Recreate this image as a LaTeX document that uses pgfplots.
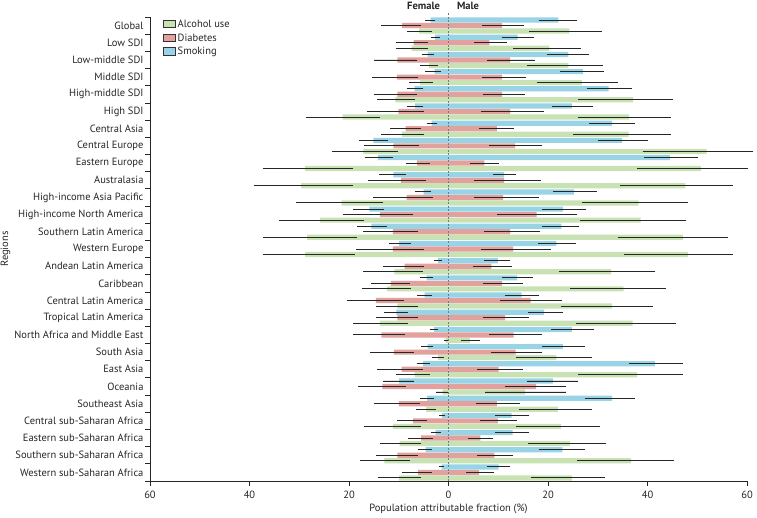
\documentclass[border=0pt]{standalone}
\usepackage{pgfplots}
\pgfplotsset{compat=1.18}
\usepackage{pgfplotstable}
\usepackage{fontspec}
\setmainfont{PT Sans}

\definecolor{csmoke}{RGB}{152,212,230}
\definecolor{cdiab}{RGB}{226,161,156}
\definecolor{calc}{RGB}{201,226,180}
\definecolor{czero}{RGB}{100,125,135}

% rows run top to bottom: Global ... Western sub-Saharan Africa
% f = female estimate (plotted to the left), fa/fb = its interval; m, ma, mb = male
\pgfplotstableread{
f fa fb m ma mb
-3.6 -4.7 -2.7 22.1 18.2 25.9
-2.7 -3.6 -1.7 13.9 10.7 17.1
-4.2 -5.3 -2.9 24.1 19.8 28.3
-2.8 -4.7 -1.6 27.0 22.5 31.2
-6.8 -8.3 -5.1 32.2 27.8 36.9
-6.7 -8.4 -5.1 24.8 20.9 29.1
-3.4 -4.4 -2.4 32.9 28.3 37.5
-15.1 -17.9 -12.2 34.9 30.0 40.1
-14.2 -16.8 -11.2 44.5 39.3 50.2
-11.1 -13.9 -8.5 11.2 8.9 13.5
-5.0 -6.7 -3.6 25.2 21.1 29.8
-15.9 -19.1 -13.0 23.0 18.8 27.6
-15.5 -18.4 -12.4 22.7 18.8 26.3
-9.9 -12.0 -7.6 21.7 17.9 25.7
-2.1 -3.0 -1.3 9.9 7.2 12.4
-4.4 -5.7 -3.2 13.8 10.8 16.9
-4.8 -6.3 -3.3 14.7 11.3 18.1
-10.5 -13.0 -8.1 19.2 15.9 23.0
-2.9 -3.8 -2.1 24.8 20.7 29.2
-4.2 -5.5 -3.2 23.0 18.8 27.4
-5.1 -6.4 -3.8 41.5 36.2 47.1
-9.9 -13.1 -7.0 21.0 15.7 26.0
-4.3 -5.7 -2.9 32.9 27.5 37.5
-1.3 -1.9 -0.7 12.7 9.3 16.1
-2.6 -3.6 -1.6 12.9 9.4 16.2
-4.6 -6.1 -3.3 22.9 18.2 27.4
-1.4 -1.9 -1.0 10.1 7.8 12.4
}\smoking

\pgfplotstableread{
f fa fb m ma mb
-9.3 -13.5 -5.5 10.8 6.7 15.1
-7.0 -10.5 -4.2 8.2 5.1 11.7
-10.3 -15.0 -6.4 12.4 7.8 17.3
-10.4 -15.4 -6.1 10.8 6.7 15.5
-10.3 -15.0 -6.3 10.8 6.9 15.3
-10.1 -16.4 -5.0 12.4 6.6 19.2
-8.6 -11.8 -5.5 9.7 6.1 13.2
-11.1 -16.9 -5.9 13.4 8.2 18.8
-6.3 -8.6 -3.8 7.2 4.4 10.1
-9.5 -16.1 -4.5 11.2 5.1 18.5
-8.4 -15.2 -3.2 11.0 5.1 18.2
-13.8 -21.2 -7.1 17.7 9.8 25.8
-11.2 -17.2 -6.1 12.4 7.2 18.3
-11.2 -18.6 -5.0 13.0 6.5 20.6
-8.8 -13.1 -5.0 8.6 4.9 12.7
-11.6 -15.5 -7.8 10.8 7.0 14.9
-14.6 -20.5 -8.9 16.5 10.4 22.9
-10.3 -14.6 -6.2 11.4 7.0 16.2
-13.5 -19.1 -8.7 13.1 8.2 18.7
-11.0 -15.7 -6.9 13.5 8.6 18.8
-9.4 -14.3 -5.2 10.1 5.8 15.0
-13.3 -18.1 -8.6 17.6 11.4 23.6
-10.0 -15.0 -5.7 9.7 5.6 14.3
-7.1 -10.3 -4.4 9.9 6.3 13.8
-5.5 -8.1 -3.2 6.4 4.0 8.9
-10.3 -14.6 -6.1 9.2 5.8 12.9
-6.1 -9.4 -3.4 6.1 3.6 9.1
}\diabetes

\pgfplotstableread{
f fa fb m ma mb
-5.9 -8.3 -3.4 24.3 16.2 30.9
-7.4 -10.5 -4.2 20.3 13.0 26.6
-3.9 -5.7 -2.2 24.1 15.7 31.0
-5.7 -7.9 -3.2 26.8 17.7 34.0
-10.7 -14.3 -6.7 37.1 26.1 45.1
-21.3 -28.6 -13.7 36.3 26.0 44.7
-9.3 -13.5 -5.0 36.2 25.1 44.7
-17.1 -23.5 -10.2 51.9 39.0 61.3
-28.8 -37.2 -19.1 50.8 37.9 60.1
-29.6 -39.1 -19.1 47.6 34.5 57.2
-21.5 -30.7 -13.1 38.2 26.8 48.2
-25.8 -34.0 -16.9 38.6 26.5 47.8
-28.4 -37.2 -18.4 47.1 34.0 56.2
-28.8 -37.2 -18.8 48.1 35.2 57.2
-10.9 -17.1 -5.2 32.7 22.2 41.6
-12.4 -17.3 -7.5 35.2 24.5 43.7
-10.3 -14.5 -6.1 32.9 22.6 41.1
-13.8 -19.1 -8.2 37.0 25.6 45.8
-0.6 -1.0 -0.1 4.3 2.5 6.3
-2.1 -3.3 -1.0 21.7 13.6 28.8
-6.8 -10.5 -3.7 37.9 26.1 47.1
-1.2 -2.5 -0.2 15.4 7.4 23.6
-4.5 -6.6 -2.6 22.0 14.2 28.8
-11.2 -16.9 -5.6 22.6 13.6 30.5
-9.8 -13.7 -5.5 24.4 16.0 31.7
-12.9 -17.7 -7.7 36.7 25.8 45.4
-9.9 -14.2 -5.5 24.8 16.6 31.5
}\alcohol

\pgfplotsset{
  riskbar/.style={xbar, bar width=5.2pt, bar shift=0pt, draw=none,
    error bars/x dir=both, error bars/x explicit, error bars/error mark=none,
    error bars/error bar style={line width=0.9pt, black!85}},
  % #1 = vertical offset of the series inside its region (axis units)
  table/fem/.style={x=f, y expr=27-\coordindex+#1,
    x error plus expr=\thisrow{fb}-\thisrow{f},
    x error minus expr=\thisrow{f}-\thisrow{fa}},
  table/mal/.style={x=m, y expr=27-\coordindex+#1,
    x error plus expr=\thisrow{mb}-\thisrow{m},
    x error minus expr=\thisrow{m}-\thisrow{ma}},
}

\begin{document}
\begin{tikzpicture}[font=\fontsize{10.5}{12}\selectfont, text=black!85]
\begin{axis}[
  at={(0,0)}, anchor=south west,
  scale only axis, width=597pt, height=464pt,
  xmin=-60, xmax=60, ymin=0.5, ymax=27.5,
  clip=false,
  axis x line*=bottom, axis y line*=left,
  axis line style={-, black!85, line width=0.8pt},
  xtick={-60,-40,...,60}, xticklabels={60,40,20,0,20,40,60},
  minor xtick={-60,-40,...,60},
  ytick={1,...,27},
  minor ytick={0.5,1.5,...,27.5},
  yticklabels={Western sub-Saharan Africa, Southern sub-Saharan Africa, Eastern sub-Saharan Africa, Central sub-Saharan Africa, Southeast Asia, Oceania, East Asia, South Asia, North Africa and Middle East, Tropical Latin America, Central Latin America, Caribbean, Andean Latin America, Western Europe, Southern Latin America, High-income North America, High-income Asia Pacific, Australasia, Eastern Europe, Central Europe, Central Asia, High SDI, High-middle SDI, Middle SDI, Low-middle SDI, Low SDI, Global},
  major tick length=0pt, minor tick length=4.5pt,
  tick align=outside,
  tick style={black!85, line width=0.8pt},
  /pgf/number format/assume math mode=true,
  ticklabel style={font=\fontsize{10.5}{12}\selectfont},
  xticklabel style={yshift=-6pt},
  yticklabel style={xshift=-3pt},
  xlabel={Population attributable fraction (\%)},
  ylabel={Regions},
  xlabel style={yshift=1pt},
  ylabel style={at={([xshift=-136pt]axis description cs:0,0.5)}, anchor=south, rotate=0},
  legend cell align=left,
  legend style={at={(axis cs:-57.4,27.45)}, anchor=north west, draw=none, fill=none,
    inner sep=0pt, row sep=0.6pt, font=\fontsize{10.5}{12}\selectfont},
]
\addplot[riskbar, fill=calc,
  legend image code/.code={\draw[fill=calc, draw=black!80, line width=0.6pt] (0pt,-3.2pt) rectangle (12pt,4.2pt);}]
  table[fem=-0.32] {\alcohol};
\addlegendentry{Alcohol use}
\addplot[riskbar, fill=cdiab,
  legend image code/.code={\draw[fill=cdiab, draw=black!80, line width=0.6pt] (0pt,-3.2pt) rectangle (12pt,4.2pt);}]
  table[fem=0] {\diabetes};
\addlegendentry{Diabetes}
\addplot[riskbar, fill=csmoke,
  legend image code/.code={\draw[fill=csmoke, draw=black!80, line width=0.6pt] (0pt,-3.2pt) rectangle (12pt,4.2pt);}]
  table[fem=0.32] {\smoking};
\addlegendentry{Smoking}

\addplot[riskbar, fill=calc, forget plot] table[mal=-0.32] {\alcohol};
\addplot[riskbar, fill=cdiab, forget plot] table[mal=0] {\diabetes};
\addplot[riskbar, fill=csmoke, forget plot] table[mal=0.32] {\smoking};

\draw[czero, line width=1pt, dash pattern=on 2pt off 1.5pt]
  (axis cs:0,0.5) -- ([yshift=4pt]axis cs:0,27.5);
\node[anchor=base east, font=\fontsize{10.5}{12}\selectfont\bfseries]
  at ([xshift=-5pt, yshift=8pt]axis cs:0,27.5) {Female};
\node[anchor=base west, font=\fontsize{10.5}{12}\selectfont\bfseries]
  at ([xshift=5pt, yshift=8pt]axis cs:0,27.5) {Male};
\end{axis}
\pgfresetboundingbox
\path (-150pt,-36pt) rectangle (607pt,481pt);
\end{tikzpicture}
\end{document}
